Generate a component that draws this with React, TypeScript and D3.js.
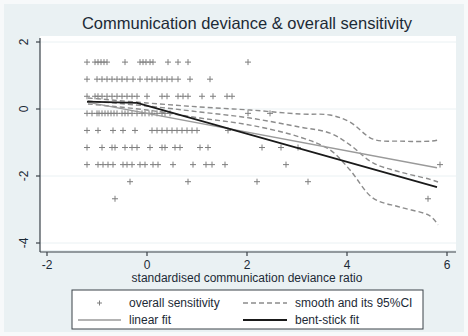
import React from 'react';
import { scaleLinear, line, curveCatmullRom, curveLinear } from 'd3';

// overall sensitivity takes discrete values; x positions of the "+" markers per level
const sensLevels = [1.4, 0.89, 0.38, -0.13, -0.64, -1.15, -1.66, -2.17, -2.68];
const sensX: number[][] = [
    [-1.2, -1.04, -0.98, -0.92, -0.86, -0.8, -0.44, -0.14, -0.08, -0.02, 0.06, 0.12, 0.42, 0.62, 0.82, 2.02],
    [-1.2, -1.0, -0.9, -0.8, -0.7, -0.6, -0.5, -0.4, -0.28, -0.14, 0, 0.1, 0.2, 0.3, 0.4, 0.5, 0.62, 0.86, 1.26],
    [-1.2, -1.04, -0.98, -0.9, -0.8, -0.7, -0.6, -0.5, -0.4, -0.3, -0.2, 0, 0.3, 0.4, 0.62, 0.72, 0.82, 1.1, 1.32, 1.6, 1.7],
    [-1.2, -1.1, -1.0, -0.96, -0.9, -0.84, -0.78, -0.72, -0.66, -0.6, -0.5, -0.44, -0.38, -0.3, -0.2, -0.1, -0.04, 0.04, 0.1, 0.2, 0.3, 0.36, 0.46, 2.02, 2.46],
    [-1.2, -0.98, -0.68, -0.48, -0.24, 0.1, 0.2, 0.3, 0.4, 0.5, 0.6, 0.7, 0.8, 0.9, 1.0, 1.62],
    [-1.2, -0.9, -0.7, -0.64, -0.44, -0.3, -0.2, 0.06, 0.3, 0.36, 0.56, 0.66, 1.06, 1.22, 2.3, 2.68, 3.02],
    [-1.2, -0.98, -0.88, -0.78, -0.68, -0.48, -0.4, -0.3, -0.14, -0.04, 0.12, 0.22, 0.52, 0.92, 1.18, 1.3, 1.56, 2.78, 5.86],
    [-0.34, 0.82, 2.2, 3.22],
    [-0.64, 5.62],
];

// linear fit: intercept, slope over the data range
const linearFit = { intercept: -0.13, slope: -0.28 };
const xRange = [-1.2, 5.8];

// bent-stick fit vertices
const bentX = [-1.2, -0.2, 5.8];
const bentY = [0.22, 0.18, -2.33];

// lowess smooth and 95% CI
const smoothX = [-1.18, 0, 1.06, 2.06, 3.06, 3.66, 4.06, 4.52, 5.06, 5.66, 5.82];
const smoothY = [0.24, 0.09, -0.09, -0.27, -0.54, -0.72, -1.07, -1.61, -1.88, -2.1, -2.18];
const upperY = [0.33, 0.18, 0.06, -0.03, -0.15, -0.18, -0.39, -0.9, -0.96, -0.96, -0.93];
const lowerY = [0.15, -0.03, -0.27, -0.48, -0.84, -1.22, -1.82, -2.66, -2.93, -3.19, -3.46];

const xTicks = [-2, 0, 2, 4, 6];
const yTicks = [2, 0, -2, -4];

const font = '"Liberation Sans", Arial, Helvetica, sans-serif';

const App: React.FC = () => {
    const width = 468;
    const height = 336;
    const plot = { left: 40, right: 456, top: 36, bottom: 250 };

    const x = scaleLinear().domain([-2, 6]).range([47, 447]);
    const y = scaleLinear().domain([-4, 2]).range([243, 42]);

    const straight = line<[number, number]>().x(d => x(d[0])).y(d => y(d[1])).curve(curveLinear);
    const smooth = line<[number, number]>().x(d => x(d[0])).y(d => y(d[1])).curve(curveCatmullRom.alpha(0.5));

    const linPts: [number, number][] = xRange.map(v => [v, linearFit.intercept + linearFit.slope * v]);
    const bentPts: [number, number][] = bentX.map((v, i) => [v, bentY[i]]);
    const ciCurves = [upperY, smoothY, lowerY].map(ys => smoothX.map((v, i) => [v, ys[i]] as [number, number]));

    const pts: { px: number; py: number }[] = [];
    sensX.forEach((row, i) => row.forEach(v => pts.push({ px: x(v), py: y(sensLevels[i]) })));

    const axisColor = '#3a4248';
    const markColor = '#7e7e7e';

    return (
        <svg width={width} height={height} style={{ position: 'absolute', left: 0, top: 0 }} fontFamily={font}>
            <rect width={width} height={height} fill="#f7f9fa" />
            <rect x={4} y={4} width={width - 8} height={height - 8} fill="#eaf1f3" />
            <rect x={plot.left} y={plot.top} width={plot.right - plot.left} height={plot.bottom - plot.top} fill="#ffffff" />

            {/* title */}
            <text x={247} y={29} textAnchor="middle" fontSize={16.5} fill="#1c2a36">
                Communication deviance &amp; overall sensitivity
            </text>

            {/* grid */}
            {yTicks.map(t => (
                <line key={t} x1={plot.left} x2={plot.right} y1={y(t)} y2={y(t)} stroke="#eaf1f3" strokeWidth={1} />
            ))}

            {/* y axis */}
            <line x1={plot.left} x2={plot.left} y1={plot.top + 2} y2={plot.bottom + 2} stroke={axisColor} strokeWidth={1.2} />
            {yTicks.map(t => (
                <g key={t}>
                    <line x1={plot.left - 4} x2={plot.left} y1={y(t)} y2={y(t)} stroke={axisColor} strokeWidth={1.2} />
                    <text transform={`translate(${plot.left - 12},${y(t)}) rotate(-90)`} textAnchor="middle" fontSize={12} fill="#1c2a36">
                        {t}
                    </text>
                </g>
            ))}

            {/* x axis */}
            <line x1={plot.left} x2={plot.right} y1={plot.bottom + 2} y2={plot.bottom + 2} stroke={axisColor} strokeWidth={1.2} />
            {xTicks.map(t => (
                <g key={t}>
                    <line x1={x(t)} x2={x(t)} y1={plot.bottom + 2} y2={plot.bottom + 6} stroke={axisColor} strokeWidth={1.2} />
                    <text x={x(t)} y={plot.bottom + 19} textAnchor="middle" fontSize={12} fill="#1c2a36">
                        {t}
                    </text>
                </g>
            ))}
            <text x={247} y={282} textAnchor="middle" fontSize={12} fill="#1c2a36">
                standardised communication deviance ratio
            </text>

            {/* scatter */}
            <g stroke={markColor} strokeWidth={1}>
                {pts.map((p, i) => (
                    <path key={i} d={`M${p.px - 3},${p.py}h6M${p.px},${p.py - 3}v6`} />
                ))}
            </g>

            {/* smooth and CI */}
            <g fill="none" stroke="#8c8c8c" strokeWidth={1.4} strokeDasharray="5,3">
                {ciCurves.map((c, i) => (
                    <path key={i} d={smooth(c) || ''} />
                ))}
            </g>

            {/* linear fit */}
            <path d={straight(linPts) || ''} fill="none" stroke="#9a9a9a" strokeWidth={1.3} />

            {/* bent-stick fit */}
            <path d={straight(bentPts) || ''} fill="none" stroke="#1a1a1a" strokeWidth={1.8} />

            {/* legend */}
            <rect x={72} y={290} width={351} height={39} fill="#ffffff" stroke={axisColor} strokeWidth={1} />
            <g fontSize={12} fill="#1c2a36">
                <path d="M97,303h5M99.5,300.5v5" stroke={markColor} strokeWidth={1} />
                <text x={129} y={307}>overall sensitivity</text>
                <line x1={243} x2={287} y1={303} y2={303} stroke="#8c8c8c" strokeWidth={1.4} strokeDasharray="5,3" />
                <text x={295} y={307}>smooth and its 95%CI</text>
                <line x1={78} x2={121} y1={320} y2={320} stroke="#9a9a9a" strokeWidth={1.3} />
                <text x={129} y={324}>linear fit</text>
                <line x1={243} x2={287} y1={320} y2={320} stroke="#1a1a1a" strokeWidth={1.8} />
                <text x={295} y={324}>bent-stick fit</text>
            </g>
        </svg>
    );
};

export default App;
